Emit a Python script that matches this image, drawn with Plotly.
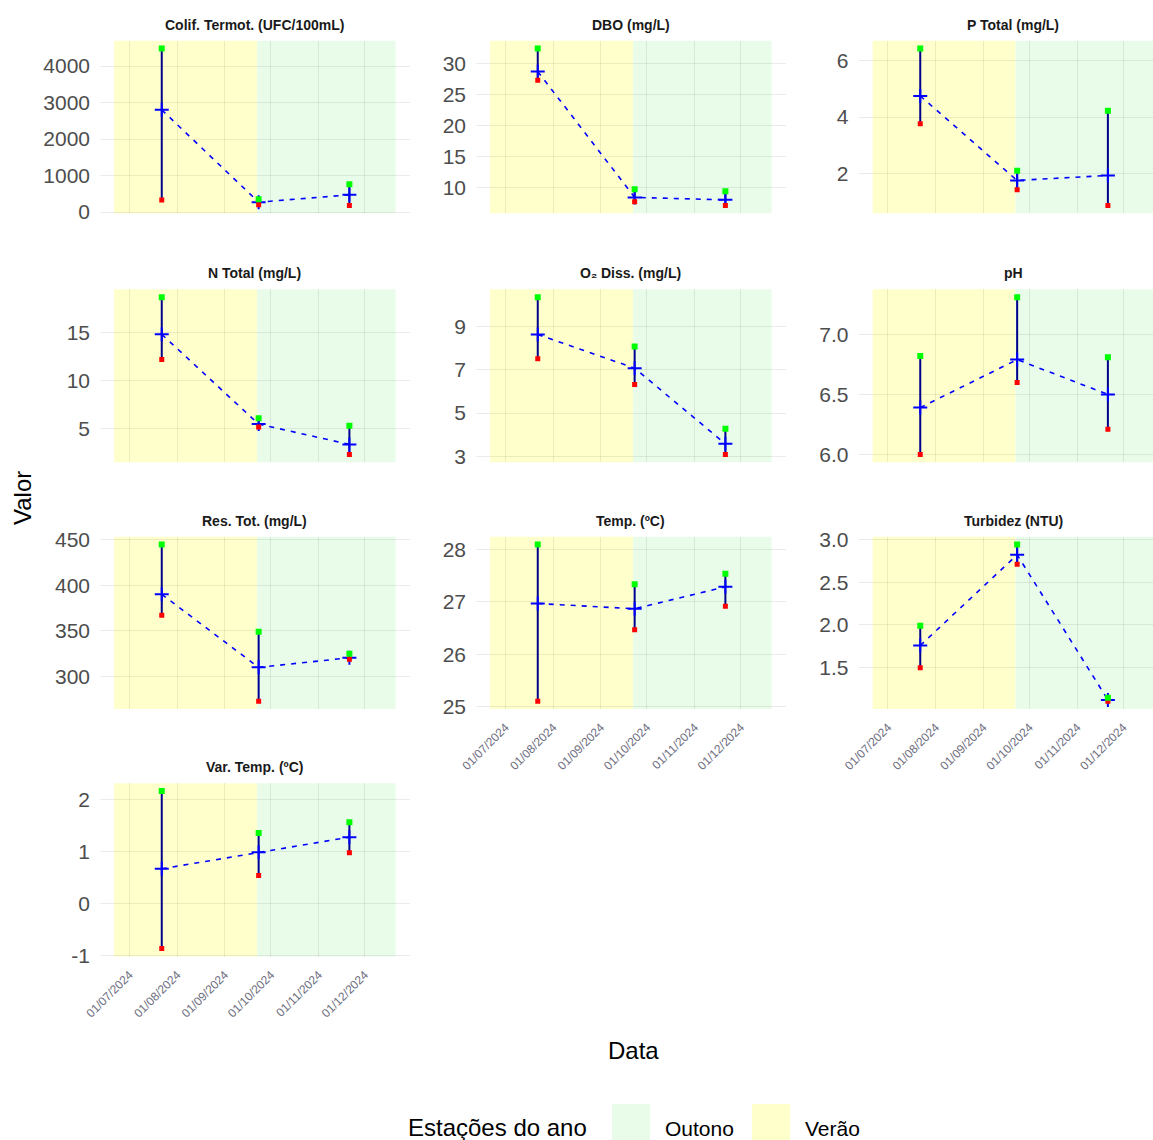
import plotly.graph_objects as go
from datetime import datetime

# ---- data -------------------------------------------------------------
dates = ["2024-07-22", "2024-09-23", "2024-11-21"]

panels = [
    "Colif. Termot. (UFC/100mL)", "DBO (mg/L)", "P Total (mg/L)",
    "N Total (mg/L)", "O₂ Diss. (mg/L)", "pH",
    "Res. Tot. (mg/L)", "Temp. (ºC)", "Turbidez (NTU)",
    "Var. Temp. (ºC)",
]

colif_mean = [2800, 270, 470]
colif_min = [330, 200, 180]
colif_max = [4480, 350, 760]

dbo_mean = [28.7, 8.4, 8.0]
dbo_min = [27.3, 7.7, 7.1]
dbo_max = [32.4, 9.7, 9.4]

ptot_mean = [4.75, 1.74, 1.92]
ptot_min = [3.76, 1.41, 0.85]
ptot_max = [6.44, 2.09, 4.22]

ntot_mean = [14.8, 5.5, 3.4]
ntot_min = [12.2, 5.2, 2.36]
ntot_max = [18.65, 6.1, 5.34]

od_mean = [8.64, 7.08, 3.57]
od_min = [7.52, 6.32, 3.08]
od_max = [10.37, 8.08, 4.27]

ph_mean = [6.39, 6.79, 6.50]
ph_min = [6.0, 6.60, 6.21]
ph_max = [6.82, 7.31, 6.81]

res_mean = [390, 310, 320.5]
res_min = [367, 273, 319]
res_max = [444.5, 349, 325]

temp_mean = [26.97, 26.87, 27.29]
temp_min = [25.1, 26.47, 26.92]
temp_max = [28.1, 27.34, 27.54]

turb_mean = [1.76, 2.82, 1.125]
turb_min = [1.5, 2.71, 1.11]
turb_max = [1.99, 2.94, 1.15]

vtemp_mean = [0.67, 0.99, 1.28]
vtemp_min = [-0.87, 0.54, 0.98]
vtemp_max = [2.17, 1.36, 1.57]

series = [
    (colif_mean, colif_min, colif_max),
    (dbo_mean, dbo_min, dbo_max),
    (ptot_mean, ptot_min, ptot_max),
    (ntot_mean, ntot_min, ntot_max),
    (od_mean, od_min, od_max),
    (ph_mean, ph_min, ph_max),
    (res_mean, res_min, res_max),
    (temp_mean, temp_min, temp_max),
    (turb_mean, turb_min, turb_max),
    (vtemp_mean, vtemp_min, vtemp_max),
]

y_ticks = [
    [0, 1000, 2000, 3000, 4000],
    [10, 15, 20, 25, 30],
    [2, 4, 6],
    [5, 10, 15],
    [3, 5, 7, 9],
    [6.0, 6.5, 7.0],
    [300, 350, 400, 450],
    [25, 26, 27, 28],
    [1.5, 2.0, 2.5, 3.0],
    [-1, 0, 1, 2],
]
y_decimals = [0, 0, 0, 0, 0, 1, 0, 0, 1, 0]

x_tick_dates = ["2024-07-01", "2024-08-01", "2024-09-01",
                "2024-10-01", "2024-11-01", "2024-12-01"]
x_tick_text = ["01/07/2024", "01/08/2024", "01/09/2024",
               "01/10/2024", "01/11/2024", "01/12/2024"]

seasons = ["Verão", "Outono"]
season_start = ["2024-06-21", "2024-09-22"]
season_end = ["2024-09-22", "2024-12-21"]
season_fill = {"Verão": "#FFFFCC", "Outono": "#E9FCE9"}

# ---- layout geometry (pixels) ------------------------------------------
W, H = 1153, 1140
col_px = [(100, 409.6), (476, 785.6), (858.5, 1168.1)]
row_px = [(40.7, 213.3), (289.3, 462.3), (536.7, 709.0), (783.2, 956.5)]
bottom_panels = {9, 7, 8}
GRID = "rgba(0,0,0,0.08)"


def fx(p):
    return p / W


def fy(p):
    return 1 - p / H


# x range: season span with 5% expansion
t0 = datetime.fromisoformat(season_start[0])
t1 = datetime.fromisoformat(season_end[-1])
span = t1 - t0
xr0 = t0 - span * 0.05
xr1 = t1 + span * 0.05

fig = go.Figure()
layout = dict(
    width=W, height=H, autosize=False,
    margin=dict(l=0, r=0, t=0, b=0, pad=0, autoexpand=False),
    paper_bgcolor="white", plot_bgcolor="white",
    showlegend=False,
    font=dict(family="Liberation Sans, Arial, sans-serif"),
)
shapes = []
annotations = []

for i, (title, (mean_v, min_v, max_v)) in enumerate(zip(panels, series)):
    r, c = divmod(i, 3)
    n = i + 1
    xa = "x" if n == 1 else f"x{n}"
    ya = "y" if n == 1 else f"y{n}"
    xl = "xaxis" if n == 1 else f"xaxis{n}"
    yl = "yaxis" if n == 1 else f"yaxis{n}"

    left, right = col_px[c]
    top, bottom = row_px[r]
    dom_right = min(right, W)
    frac = (dom_right - left) / (right - left)
    xend = xr0 + (xr1 - xr0) * frac

    lo, hi = min(min_v), max(max_v)
    pad = 0.05 * (hi - lo)

    layout[xl] = dict(
        domain=[fx(left), fx(dom_right)],
        anchor=ya, type="date", automargin=False,
        range=[xr0.isoformat(), xend.isoformat()],
        tickvals=x_tick_dates, ticktext=x_tick_text,
        showticklabels=i in bottom_panels,
        tickangle=-45,
        tickfont=dict(size=12, color="#6E6E80"),
        ticklabelstandoff=8,
        showgrid=True, gridcolor=GRID, gridwidth=1.3,
        zeroline=False, showline=False, ticks="",
    )
    layout[yl] = dict(
        domain=[fy(bottom), fy(top)],
        anchor=xa, automargin=False,
        range=[lo - pad, hi + pad],
        tickvals=y_ticks[i],
        ticktext=[f"{v:.{y_decimals[i]}f}" for v in y_ticks[i]],
        tickfont=dict(size=21, color="#4D4D4D"),
        ticklabelstandoff=9,
        showgrid=True, gridcolor=GRID, gridwidth=1.3,
        zeroline=False, showline=False, ticks="",
    )

    # season backgrounds, under the grid, kept inside the visible x range
    for s, a, b in zip(seasons, season_start, season_end):
        b_clip = min(datetime.fromisoformat(b), xend)
        shapes.append(dict(
            type="rect", xref=xa, yref=f"{ya} domain",
            x0=a, x1=b_clip.isoformat(), y0=0, y1=1,
            fillcolor=season_fill[s],
            line=dict(width=0), layer="below",
        ))

    # strip title
    annotations.append(dict(
        text=f"<b>{title}</b>", xref="paper", yref="paper",
        x=fx((left + right) / 2), y=fy(top - 16),
        xanchor="center", yanchor="middle", showarrow=False,
        font=dict(size=14, color="#1A1A1A"),
    ))

    # dashed line through the means
    fig.add_trace(go.Scatter(
        x=dates, y=mean_v, mode="lines", xaxis=xa, yaxis=ya,
        line=dict(color="#0000FF", width=1.6, dash="5px,6px"),
        hoverinfo="skip",
    ))
    # min-max range bars with mean crosses
    fig.add_trace(go.Scatter(
        x=dates, y=mean_v, mode="markers", xaxis=xa, yaxis=ya,
        marker=dict(symbol="cross-thin", size=10,
                    line=dict(color="#0000FF", width=2)),
        error_y=dict(
            type="data", symmetric=False,
            array=[mx - m for mx, m in zip(max_v, mean_v)],
            arrayminus=[m - mn for m, mn in zip(mean_v, min_v)],
            color="#00008B", thickness=2, width=0,
        ),
    ))
    # minimum (red) and maximum (green)
    fig.add_trace(go.Scatter(
        x=dates, y=min_v, mode="markers", xaxis=xa, yaxis=ya,
        marker=dict(symbol="square", size=5, color="#FF0000"),
    ))
    fig.add_trace(go.Scatter(
        x=dates, y=max_v, mode="markers", xaxis=xa, yaxis=ya,
        marker=dict(symbol="square", size=6, color="#00FF00"),
    ))

# axis titles
annotations.append(dict(
    text="Valor", xref="paper", yref="paper", x=fx(22), y=fy(498),
    textangle=-90, showarrow=False, xanchor="center", yanchor="middle",
    font=dict(size=24, color="#000000"),
))
annotations.append(dict(
    text="Data", xref="paper", yref="paper", x=fx(633), y=fy(1050),
    showarrow=False, xanchor="center", yanchor="middle",
    font=dict(size=24, color="#000000"),
))

# legend for the seasons
annotations.append(dict(
    text="Estações do ano", xref="paper", yref="paper", x=fx(406), y=fy(1127),
    showarrow=False, xanchor="left", yanchor="middle",
    font=dict(size=24, color="#000000"),
))
legend_boxes = [("Outono", 612, 663), ("Verão", 752, 803)]
for name, bx, tx in legend_boxes:
    shapes.append(dict(
        type="rect", xref="paper", yref="paper",
        x0=fx(bx), x1=fx(bx + 38), y0=0, y1=fy(1104),
        fillcolor=season_fill[name], line=dict(width=0),
    ))
    annotations.append(dict(
        text=name, xref="paper", yref="paper", x=fx(tx), y=fy(1128),
        showarrow=False, xanchor="left", yanchor="middle",
        font=dict(size=21, color="#000000"),
    ))

layout["shapes"] = shapes
layout["annotations"] = annotations
fig.update_layout(**layout)
fig.write_html("out.html")
